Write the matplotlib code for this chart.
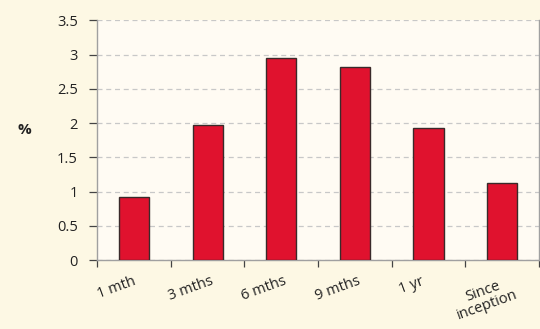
import matplotlib
matplotlib.use("Agg")
import matplotlib.pyplot as plt
import matplotlib.transforms as mtransforms
import numpy as np

categories = ["1 mth", "3 mths", "6 mths", "9 mths", "1 yr", "Since\ninception"]
returns_pct = [0.93, 1.97, 2.95, 2.82, 1.93, 1.12]
y_ticks = [0, 0.5, 1, 1.5, 2, 2.5, 3, 3.5]
y_tick_labels = ["0", "0.5", "1", "1.5", "2", "2.5", "3", "3.5"]

plt.rcParams["font.family"] = ["Open Sans", "DejaVu Sans"]

fig = plt.figure(figsize=(5.4, 3.29), dpi=100, facecolor="#FDF8E4")
ax = fig.add_axes([0.180, 0.209, 0.818, 0.729], facecolor="#FFFBF3")

x = np.arange(len(categories))
ax.bar(x, returns_pct, width=0.41, color="#E0122E", edgecolor="#3A2A2A",
       linewidth=1.0, zorder=3)

ax.set_xlim(-0.5, len(categories) - 0.5)
ax.set_ylim(0, 3.5)

ax.set_yticks(y_ticks)
ax.set_yticklabels(y_tick_labels, fontsize=10.5, color="#222222")
ax.yaxis.grid(True, linestyle=(0, (4, 3)), color="#C8C8C8", linewidth=0.9, zorder=0)
ax.tick_params(axis="y", direction="out", length=6, width=0.9, color="#444444", pad=8)

# category labels near bar centres, tick marks at category boundaries
ax.set_xticks(x)
ax.set_xticklabels(categories, fontsize=10.5, color="#222222", rotation=20,
                   ha="center", linespacing=0.85)
ax.tick_params(axis="x", which="major", length=0, pad=10)
shift = mtransforms.ScaledTranslation(-17 / 100, 0, fig.dpi_scale_trans)
for lbl in ax.get_xticklabels():
    lbl.set_transform(lbl.get_transform() + shift)
ax.set_xticks(np.arange(len(categories) + 1) - 0.5, minor=True)
ax.tick_params(axis="x", which="minor", direction="out", length=5, width=0.9,
               color="#444444")

for side in ("left", "bottom", "right"):
    ax.spines[side].set_color("#A0A0A0")
    ax.spines[side].set_linewidth(1.0)
ax.spines["top"].set_visible(False)

fig.text(0.032, 0.605, "%", fontsize=11, fontweight="bold", color="#222222",
         ha="left", va="center")

fig.savefig("out.png", dpi=100, facecolor=fig.get_facecolor())
